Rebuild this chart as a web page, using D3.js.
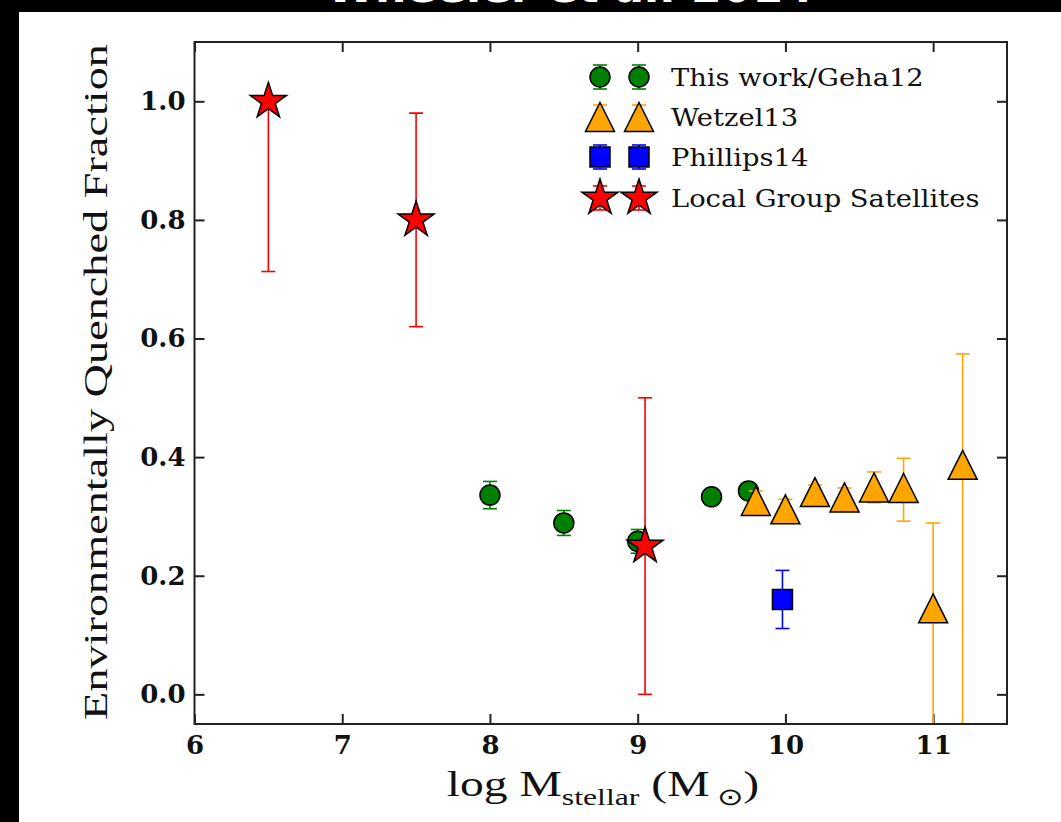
<!DOCTYPE html>
<html>
<head>
<meta charset="utf-8">
<script src="https://cdn.jsdelivr.net/npm/d3@7"></script>
<style>
  html, body { margin: 0; padding: 0; background: #000; }
  svg { display: block; }
</style>
</head>
<body>
<svg id="chart" width="1061" height="822"></svg>
<script>
// ---- data: environmentally quenched fraction vs. stellar mass ----
const gehaMass = [8.0, 8.5, 9.0, 9.5, 9.75];
const gehaFrac = [0.336, 0.289, 0.258, 0.333, 0.343];
const gehaErr  = [0.023, 0.021, 0.020, 0.012, 0.012];

const wetzelMass  = [9.8, 10.0, 10.2, 10.4, 10.6, 10.8, 11.0, 11.2];
const wetzelFrac  = [0.326, 0.312, 0.341, 0.332, 0.349, 0.348, 0.145, 0.387];
const wetzelErrLo = [0.017, 0.017, 0.012, 0.016, 0.026, 0.056, 0.300, 0.500];
const wetzelErrHi = [0.017, 0.017, 0.012, 0.016, 0.026, 0.050, 0.144, 0.187];

const phillipsMass = [9.98];
const phillipsFrac = [0.160];
const phillipsErr  = [0.049];

const lgMass  = [6.5, 7.5, 9.05];
const lgFrac  = [1.0, 0.8, 0.25];
const lgErrLo = [0.287, 0.18, 0.25];
const lgErrHi = [0.0, 0.18, 0.25];

const xTicks = [6, 7, 8, 9, 10, 11];
const yTicks = [0.0, 0.2, 0.4, 0.6, 0.8, 1.0];
const legendLabels = ["This work/Geha12", "Wetzel13", "Phillips14", "Local Group Satellites"];

// ---- marker shapes ----
function starPath(r) {
  const ri = r * 0.381966;
  const pts = [];
  for (let i = 0; i < 10; i++) {
    const a = -Math.PI / 2 + i * Math.PI / 5;
    const rr = i % 2 === 0 ? r : ri;
    pts.push([rr * Math.cos(a), rr * Math.sin(a)]);
  }
  return "M" + pts.map(p => p[0].toFixed(2) + "," + p[1].toFixed(2)).join("L") + "Z";
}
function trianglePath(h) {
  return `M0,${-h}L${h},${h}L${-h},${h}Z`;
}
const shapes = {
  circle: d3.symbol(d3.symbolCircle, Math.PI * 10 * 10)(),
  square: d3.symbol(d3.symbolSquare, 20 * 20)(),
  triangle: trianglePath(14.5),
  star: starPath(19)
};

const series = [
  { label: legendLabels[0], mass: gehaMass, frac: gehaFrac, lo: gehaErr, hi: gehaErr, color: "#008000", shape: "circle" },
  { label: legendLabels[1], mass: wetzelMass, frac: wetzelFrac, lo: wetzelErrLo, hi: wetzelErrHi, color: "#FFA500", shape: "triangle" },
  { label: legendLabels[2], mass: phillipsMass, frac: phillipsFrac, lo: phillipsErr, hi: phillipsErr, color: "#0000FF", shape: "square" },
  { label: legendLabels[3], mass: lgMass, frac: lgFrac, lo: lgErrLo, hi: lgErrHi, color: "#FF0000", shape: "star" }
];

// ---- layout ----
const svg = d3.select("#chart");
const W = 1061, H = 822;
const plot = { left: 194.5, right: 1007, top: 42, bottom: 724 };

svg.append("rect").attr("width", W).attr("height", H).attr("fill", "#000");
svg.append("rect").attr("x", 19).attr("y", 12).attr("width", W - 19).attr("height", H - 12).attr("fill", "#fff");

// figure title, mostly above the top edge of the frame
svg.append("text")
  .attr("x", 570).attr("y", 2)
  .attr("text-anchor", "middle")
  .attr("fill", "#fff")
  .style("font-family", "'DejaVu Sans', sans-serif")
  .style("font-weight", "bold")
  .style("font-size", "44px")
  .text("Wheeler et al. 2014");

const x = d3.scaleLinear().domain([6, 11.5]).range([plot.left, plot.right]);
const y = d3.scaleLinear().domain([-0.05, 1.1]).range([plot.bottom, plot.top]);

const tickFont = g => g.selectAll("text")
  .style("font-family", "'DejaVu Serif', serif")
  .style("font-weight", "bold")
  .style("font-size", "26px")
  .attr("fill", "#111");
const tickLines = g => g.selectAll(".tick line").attr("stroke", "#222").attr("stroke-width", 2);

// bottom axis with labels
svg.append("g")
  .attr("transform", `translate(0,${plot.bottom})`)
  .call(d3.axisBottom(x).tickValues(xTicks).tickFormat(d3.format("d")).tickSize(-10).tickPadding(12))
  .call(g => g.select(".domain").remove())
  .call(tickLines).call(tickFont);

// top axis, ticks only
svg.append("g")
  .attr("transform", `translate(0,${plot.top})`)
  .call(d3.axisTop(x).tickValues(xTicks).tickFormat("").tickSize(-10))
  .call(g => g.select(".domain").remove())
  .call(tickLines);

// left axis with labels
svg.append("g")
  .attr("transform", `translate(${plot.left},0)`)
  .call(d3.axisLeft(y).tickValues(yTicks).tickFormat(d3.format(".1f")).tickSize(-10).tickPadding(9))
  .call(g => g.select(".domain").remove())
  .call(tickLines).call(tickFont);

// right axis, ticks only
svg.append("g")
  .attr("transform", `translate(${plot.right},0)`)
  .call(d3.axisRight(y).tickValues(yTicks).tickFormat("").tickSize(-10))
  .call(g => g.select(".domain").remove())
  .call(tickLines);

// clip region for the data
svg.append("clipPath").attr("id", "plot-clip")
  .append("rect")
  .attr("x", plot.left).attr("y", plot.top)
  .attr("width", plot.right - plot.left).attr("height", plot.bottom - plot.top);

const dataG = svg.append("g").attr("clip-path", "url(#plot-clip)");
const capHalf = 7;

series.forEach(s => {
  const pts = s.mass.map((m, i) => ({ m, f: s.frac[i], lo: s.lo[i], hi: s.hi[i] }));
  const g = dataG.append("g");
  const eb = g.selectAll("g.err").data(pts).join("g").attr("class", "err")
    .attr("stroke", s.color).attr("stroke-width", 1.6).attr("fill", "none");
  eb.append("line")
    .attr("x1", d => x(d.m)).attr("x2", d => x(d.m))
    .attr("y1", d => y(d.f - d.lo)).attr("y2", d => y(d.f + d.hi));
  eb.append("line")
    .attr("x1", d => x(d.m) - capHalf).attr("x2", d => x(d.m) + capHalf)
    .attr("y1", d => y(d.f - d.lo)).attr("y2", d => y(d.f - d.lo));
  eb.append("line")
    .attr("x1", d => x(d.m) - capHalf).attr("x2", d => x(d.m) + capHalf)
    .attr("y1", d => y(d.f + d.hi)).attr("y2", d => y(d.f + d.hi));
  g.selectAll("path.mk").data(pts).join("path").attr("class", "mk")
    .attr("d", shapes[s.shape])
    .attr("transform", d => `translate(${x(d.m)},${y(d.f)})`)
    .attr("fill", s.color).attr("stroke", "#000").attr("stroke-width", 1.5)
    .attr("stroke-linejoin", "miter");
});

// frame
svg.append("rect")
  .attr("x", plot.left).attr("y", plot.top)
  .attr("width", plot.right - plot.left).attr("height", plot.bottom - plot.top)
  .attr("fill", "none").attr("stroke", "#222").attr("stroke-width", 2);

// legend
const legRows = [77, 117, 157, 198];
const legX = [600, 639];
const legend = svg.append("g");
series.forEach((s, i) => {
  const cy = legRows[i];
  legX.forEach(cx => {
    const eg = legend.append("g").attr("stroke", s.color).attr("stroke-width", 1.6);
    eg.append("line").attr("x1", cx).attr("x2", cx).attr("y1", cy - 12).attr("y2", cy + 12);
    eg.append("line").attr("x1", cx - capHalf).attr("x2", cx + capHalf).attr("y1", cy - 12).attr("y2", cy - 12);
    eg.append("line").attr("x1", cx - capHalf).attr("x2", cx + capHalf).attr("y1", cy + 12).attr("y2", cy + 12);
    legend.append("path").attr("d", shapes[s.shape])
      .attr("transform", `translate(${cx},${cy})`)
      .attr("fill", s.color).attr("stroke", "#000").attr("stroke-width", 1.5);
  });
  legend.append("text")
    .attr("transform", `translate(671,${cy}) scale(1.14,1)`)
    .attr("dy", "0.36em")
    .style("font-family", "'DejaVu Serif', serif")
    .style("font-size", "24px")
    .attr("fill", "#111")
    .text(s.label);
});

// axis titles (stretched along the text direction to the wide roman face)
const yTitle = svg.append("text")
  .attr("text-anchor", "middle")
  .style("font-family", "'Liberation Serif', serif")
  .style("font-size", "34px")
  .attr("fill", "#111")
  .text("Environmentally Quenched Fraction");
const yLen = yTitle.node().getComputedTextLength();
yTitle.attr("transform", `translate(107,${(plot.top + plot.bottom) / 2 - 1}) rotate(-90) scale(${676 / yLen},1)`);

const xTitle = svg.append("text")
  .attr("text-anchor", "middle")
  .style("font-family", "'Liberation Serif', serif")
  .style("font-size", "36px")
  .attr("fill", "#111");
xTitle.append("tspan").text("log M");
xTitle.append("tspan").attr("dy", 9).style("font-size", "24px").text("stellar");
xTitle.append("tspan").attr("dy", -9).text(" (M");
xTitle.append("tspan").attr("dy", 9).style("font-size", "24px").text(" \u2299");
xTitle.append("tspan").attr("dy", -9).text(")");
const xLen = xTitle.node().getBBox().width;
xTitle.attr("transform", `translate(603,796) scale(${313 / xLen},1)`);
</script>
</body>
</html>
